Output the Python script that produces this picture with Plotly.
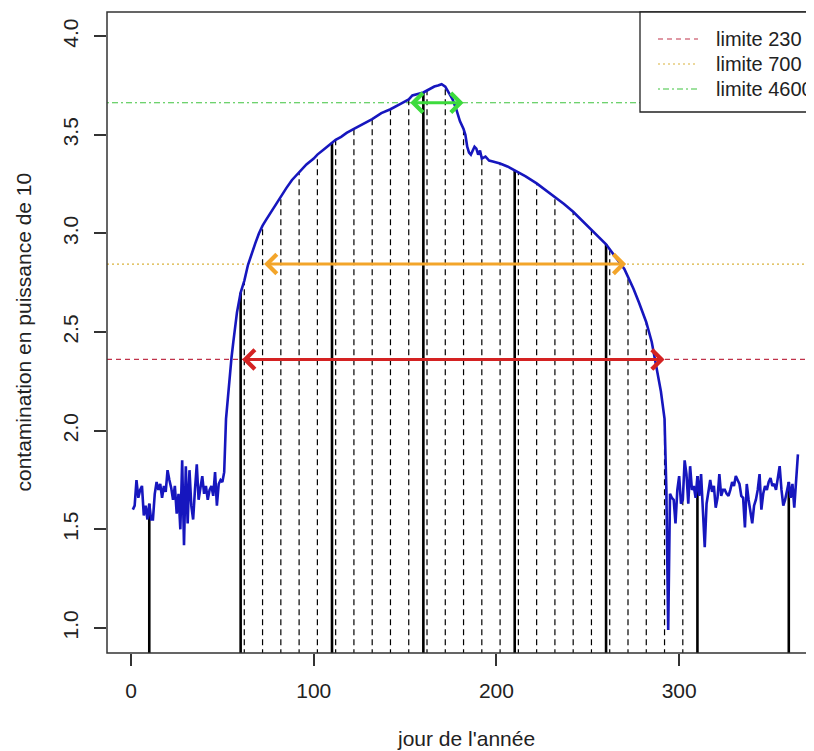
import math
import plotly.graph_objects as go

# ---------------- data ----------------
days_start = list(range(1, 51))
vals_start = [1.60, 1.62, 1.75, 1.66, 1.70, 1.72, 1.57, 1.62, 1.55, 1.63,
              1.55, 1.55, 1.68, 1.74, 1.70, 1.73, 1.66, 1.72, 1.69, 1.80,
              1.75, 1.71, 1.65, 1.72, 1.58, 1.68, 1.50, 1.85, 1.42, 1.82,
              1.53, 1.80, 1.62, 1.55, 1.70, 1.83, 1.65, 1.70, 1.77, 1.68,
              1.72, 1.65, 1.70, 1.72, 1.67, 1.79, 1.62, 1.73, 1.75, 1.74]

days_mid = [51, 52, 53, 54, 55, 56, 57, 58, 60, 62, 64, 66, 68, 70, 72, 74, 76, 78, 80, 82,
            85, 88, 92, 96, 100, 102, 106, 110, 112, 115, 118, 122, 126, 132, 137, 142, 147,
            152, 154, 156, 158, 160, 162, 164, 166, 168, 170, 172, 174, 176, 178, 180, 182,
            183, 184, 185, 186, 187, 188, 189, 190, 191, 192, 194, 196, 198, 202, 206, 210,
            212, 216, 222, 227, 232, 237, 242, 247, 252, 256, 260, 262, 266, 270, 272, 275,
            278, 282, 285, 288, 290, 292, 293, 294]
vals_mid = [1.79, 2.06, 2.17, 2.28, 2.37, 2.45, 2.53, 2.60, 2.70, 2.76, 2.84, 2.90, 2.95, 3.00,
            3.04, 3.07, 3.10, 3.13, 3.16, 3.19, 3.23, 3.27, 3.31, 3.35, 3.38, 3.40, 3.43, 3.46,
            3.475, 3.49, 3.51, 3.53, 3.55, 3.58, 3.61, 3.63, 3.655, 3.68, 3.70, 3.705, 3.71,
            3.715, 3.725, 3.735, 3.745, 3.75, 3.757, 3.745, 3.71, 3.68, 3.63, 3.57, 3.53, 3.50,
            3.44, 3.41, 3.40, 3.42, 3.44, 3.43, 3.40, 3.42, 3.38, 3.39, 3.37, 3.365, 3.355, 3.34,
            3.32, 3.31, 3.29, 3.254, 3.22, 3.185, 3.15, 3.11, 3.065, 3.017, 2.985, 2.945, 2.92,
            2.87, 2.82, 2.78, 2.72, 2.65, 2.55, 2.45, 2.30, 2.20, 2.06, 1.70, 0.99]

days_end = list(range(295, 366))
vals_end = [1.68, 1.66, 1.65, 1.53, 1.70, 1.77, 1.63, 1.65, 1.85, 1.78,
            1.63, 1.82, 1.70, 1.72, 1.66, 1.77, 1.67, 1.78, 1.62, 1.41,
            1.63, 1.70, 1.75, 1.69, 1.72, 1.61, 1.66, 1.78, 1.67, 1.70,
            1.70, 1.68, 1.67, 1.70, 1.74, 1.72, 1.77, 1.75, 1.73, 1.67,
            1.66, 1.51, 1.73, 1.65, 1.60, 1.53, 1.62, 1.65, 1.70, 1.78,
            1.60, 1.68, 1.72, 1.70, 1.74, 1.76, 1.72, 1.73, 1.70, 1.75,
            1.82, 1.70, 1.62, 1.65, 1.70, 1.74, 1.66, 1.73, 1.61, 1.75,
            1.88]

solid_days = [10, 60, 110, 160, 210, 260, 310, 360]
dashed_days = [62, 72, 82, 92, 102, 112, 122, 132, 142, 152, 162, 172, 182, 192, 202,
               212, 222, 232, 242, 252, 262, 272, 282, 292, 302]

limits = [230, 700, 4600]
limit_labels = ["limite 230", "limite 700", "limite 4600"]
limit_colors = ["#C0334A", "#D9B23A", "#3FC43F"]
limit_dash = ["5px,4px", "2px,3px", "2px,3px,6px,3px"]
arrow_start = [60, 72, 152]
arrow_end = [292, 271, 182]
arrow_colors = ["#D42222", "#F3A52A", "#3DDB3D"]

x_ticks = [0, 100, 200, 300]
y_ticks = [1.0, 1.5, 2.0, 2.5, 3.0, 3.5, 4.0]
y_ticktext = ["1.0", "1.5", "2.0", "2.5", "3.0", "3.5", "4.0"]

# ---------------- figure ----------------
OFF = 8  # page body margin
W, H = 814 - OFF, 751 - OFF
ML, MT = 107 - OFF, 12 - OFF
MB = H - (653 - OFF)
MR = 0
PW = W - ML - MR
PH = H - MT - MB


def pxx(xp):  # page pixel -> paper x
    return (xp - OFF - ML) / PW


def pxy(yp):  # page pixel -> paper y
    return (MT + PH - (yp - OFF)) / PH


days = days_start + days_mid + days_end
vals = vals_start + vals_mid + vals_end
value_of = dict(zip(days, vals))

FONT = "Liberation Sans, Arial, sans-serif"
TXT = "#222222"
FS = 21

fig = go.Figure()


def segs(dlist):
    xs, ys = [], []
    for d in dlist:
        xs += [d, d, None]
        ys += [0, value_of[d], None]
    return xs, ys


sx, sy = segs(dashed_days)
fig.add_trace(go.Scatter(x=sx, y=sy, mode="lines", hoverinfo="skip", showlegend=False,
                         line=dict(color="black", width=1.2, dash="6px,4px")))
sx, sy = segs(solid_days)
fig.add_trace(go.Scatter(x=sx, y=sy, mode="lines", hoverinfo="skip", showlegend=False,
                         line=dict(color="black", width=2.6)))
fig.add_trace(go.Scatter(x=days, y=vals, mode="lines", showlegend=False,
                         line=dict(color="#1616BE", width=2.6)))

shapes = []
for lim, col, dsh in zip(limits, limit_colors, limit_dash):
    yl = math.log10(lim)
    shapes.append(dict(type="line", xref="x domain", x0=0, x1=1, yref="y", y0=yl, y1=yl,
                       line=dict(color=col, width=1.2, dash=dsh), layer="below"))

# plot frame (right side extends beyond the visible page)
shapes.append(dict(type="rect", xref="paper", yref="paper", x0=0, x1=1.2, y0=0, y1=1,
                   line=dict(color="#333333", width=1.5), fillcolor="rgba(0,0,0,0)", layer="above"))

# legend box
shapes.append(dict(type="rect", xref="paper", yref="paper", x0=pxx(640), x1=pxx(860),
                   y0=pxy(112), y1=pxy(12), line=dict(color="#222222", width=1.3),
                   fillcolor="white", layer="above"))
legend_rows = [39, 64, 89]
annotations = []
for row, lab, col, dsh in zip(legend_rows, limit_labels, limit_colors, limit_dash):
    shapes.append(dict(type="line", xref="paper", yref="paper", x0=pxx(658), x1=pxx(698),
                       y0=pxy(row), y1=pxy(row), line=dict(color=col, width=1.2, dash=dsh),
                       layer="above"))
    annotations.append(dict(text=lab, xref="paper", yref="paper", x=pxx(714), y=pxy(row),
                            xanchor="left", yanchor="middle", showarrow=False,
                            font=dict(family=FONT, size=20, color=TXT)))

for s, e, lim, col in zip(arrow_start, arrow_end, limits, arrow_colors):
    yl = math.log10(lim)
    annotations.append(dict(x=e, y=yl, ax=s, ay=yl, xref="x", yref="y", axref="x", ayref="y",
                            text="", showarrow=True, arrowside="end+start", arrowhead=4,
                            startarrowhead=4, arrowsize=1.25, startarrowsize=1.25, arrowwidth=3,
                            arrowcolor=col, standoff=0, startstandoff=0))

annotations.append(dict(text="jour de l'année", xref="paper", yref="paper", x=pxx(466), y=pxy(739),
                        xanchor="center", yanchor="middle", showarrow=False,
                        font=dict(family=FONT, size=FS, color=TXT)))
annotations.append(dict(text="contamination en puissance de 10", xref="paper", yref="paper",
                        x=pxx(23), y=0.5, xanchor="center", yanchor="middle", textangle=-90,
                        showarrow=False, font=dict(family=FONT, size=FS, color=TXT)))

fig.update_layout(
    width=W, height=H,
    margin=dict(l=ML, r=MR, t=MT, b=MB, pad=0),
    paper_bgcolor="white", plot_bgcolor="white",
    font=dict(family=FONT, size=FS, color=TXT),
    shapes=shapes, annotations=annotations,
    showlegend=False,
    xaxis=dict(range=[-13.14, 373.8], tickvals=x_ticks, ticks="outside", ticklen=12,
               tickwidth=1.5, tickcolor="#333333", showgrid=False, zeroline=False,
               showline=False, tickfont=dict(family=FONT, size=FS, color=TXT),
               ticklabelstandoff=7),
    yaxis=dict(range=[0.873, 4.123], tickvals=y_ticks, ticktext=y_ticktext, tickangle=-90,
               ticks="outside", ticklen=12, tickwidth=1.5, tickcolor="#333333",
               showgrid=False, zeroline=False, showline=False,
               tickfont=dict(family=FONT, size=FS, color=TXT), ticklabelstandoff=8),
)

fig.write_html("out.html")
